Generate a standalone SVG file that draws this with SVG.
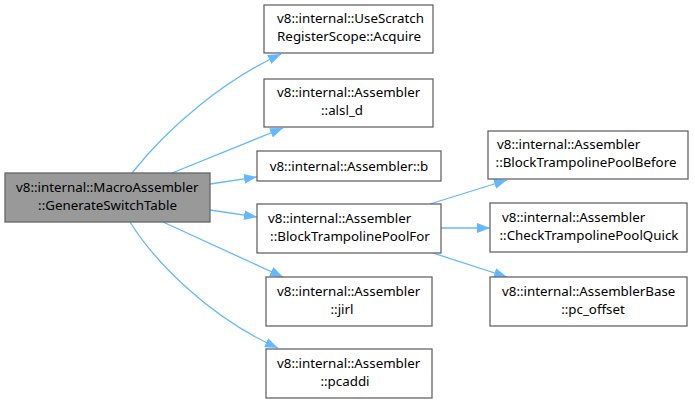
<svg xmlns="http://www.w3.org/2000/svg" width="695" height="405" viewBox="0 0 695 405">
<defs>
<style>
.n rect{fill:#ffffff;stroke:#666666;stroke-width:1.3}
.n.main rect{fill:#999999}
text{font-family:"Noto Sans","Open Sans","DejaVu Sans",sans-serif;font-size:13.33px;fill:#000000}
.s{text-anchor:start}
.m{text-anchor:middle}
.e path{fill:none;stroke:#63b8ff;stroke-width:1.3;marker-end:url(#ah)}
</style>
<marker id="ah" markerUnits="userSpaceOnUse" markerWidth="13" markerHeight="10" refX="13" refY="5" orient="auto">
<path d="M0,0 L13,5 L0,10 z" fill="#63b8ff"/>
</marker>
</defs>
<rect width="695" height="405" fill="#ffffff"/>
<g class="e" id="edges">
<path d="M132,173 C170,125 225,80 281,54"/>
<path d="M172,173 L283,128"/>
<path d="M210,184 L257,177"/>
<path d="M210,210 L257,217"/>
<path d="M163,222 L283,277"/>
<path d="M130,222 C155,262 210,318 278,348"/>
<path d="M430,204 L507,180"/>
<path d="M441,228 L490,228"/>
<path d="M433,253 L507,277"/>
</g>
<g class="n main" id="n_main">
<rect x="5" y="173" width="205" height="49"/>
<text class="s" x="16" y="191.5">v8::internal::MacroAssembler</text>
<text class="m" x="107.5" y="209.5">::GenerateSwitchTable</text>
</g>
<g class="n" id="n_acquire">
<rect x="264" y="5" width="169" height="48"/>
<text class="s" x="277" y="23">v8::internal::UseScratch</text>
<text class="m" x="349" y="41">RegisterScope::Acquire</text>
</g>
<g class="n" id="n_alsl">
<rect x="264" y="79" width="169" height="48"/>
<text class="s" x="277" y="97">v8::internal::Assembler</text>
<text class="m" x="342" y="115">::alsl_d</text>
</g>
<g class="n" id="n_b">
<rect x="257" y="151" width="184" height="30"/>
<text class="m" x="349" y="170.5">v8::internal::Assembler::b</text>
</g>
<g class="n" id="n_btpfor">
<rect x="257" y="204" width="184" height="49"/>
<text class="s" x="268" y="222.5">v8::internal::Assembler</text>
<text class="m" x="350" y="240.5">::BlockTrampolinePoolFor</text>
</g>
<g class="n" id="n_jirl">
<rect x="266" y="277" width="166" height="49"/>
<text class="s" x="277" y="295.5">v8::internal::Assembler</text>
<text class="m" x="342" y="313.5">::jirl</text>
</g>
<g class="n" id="n_pcaddi">
<rect x="266" y="349" width="166" height="49"/>
<text class="s" x="277" y="367.5">v8::internal::Assembler</text>
<text class="m" x="345" y="385.5">::pcaddi</text>
</g>
<g class="n" id="n_before">
<rect x="488" y="131" width="200" height="48"/>
<text class="s" x="497" y="149">v8::internal::Assembler</text>
<text class="m" x="586" y="167">::BlockTrampolinePoolBefore</text>
</g>
<g class="n" id="n_quick">
<rect x="490" y="203" width="197" height="49"/>
<text class="s" x="502" y="221.5">v8::internal::Assembler</text>
<text class="m" x="589" y="239.5">::CheckTrampolinePoolQuick</text>
</g>
<g class="n" id="n_pcoffset">
<rect x="490" y="277" width="197" height="49"/>
<text class="s" x="502" y="295.5">v8::internal::AssemblerBase</text>
<text class="m" x="593" y="313.5">::pc_offset</text>
</g>
</svg>
